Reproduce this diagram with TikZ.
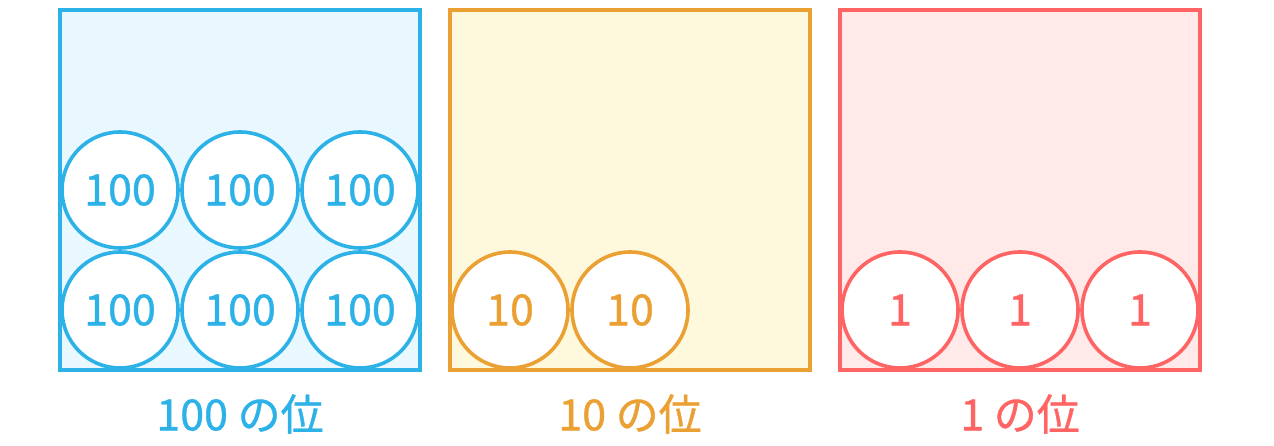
\documentclass[tikz,border=0pt]{standalone}
\usepackage{fontspec}
\setmainfont{Noto Sans CJK JP}
\newfontfamily\medfont{Noto Sans CJK JP}[FakeBold=0.9]
\definecolor{cblue}{HTML}{2DB2E8}
\definecolor{fblue}{HTML}{E9F8FE}
\definecolor{corange}{HTML}{EBA033}
\definecolor{forange}{HTML}{FEF8DC}
\definecolor{cred}{HTML}{FF6464}
\definecolor{fred}{HTML}{FFE9E9}
\begin{document}
\begin{tikzpicture}[x=1pt,y=-1pt,
  place/.style={draw=#1, line width=4pt},
  coin/.style={circle, draw=#1, fill=white, line width=3.6pt, minimum size=116pt, inner sep=0pt, text=#1, font=\medfont\fontsize{43}{43}\selectfont},
  lbl/.style={text=#1, font=\medfont\fontsize{43}{43}\selectfont}]
\useasboundingbox (0,0) rectangle (1274,446);
\draw[place=cblue, fill=fblue] (60,10) rectangle (420,370);
\draw[place=corange, fill=forange] (450,10) rectangle (810,370);
\draw[place=cred, fill=fred] (840,10) rectangle (1200,370);
\node[coin=cblue] (b1) at (120,190) {100};
\node[coin=cblue] (b2) at (240,190) {100};
\node[coin=cblue] (b3) at (360,190) {100};
\node[coin=cblue] (b4) at (120,310) {100};
\node[coin=cblue] (b5) at (240,310) {100};
\node[coin=cblue] (b6) at (360,310) {100};
\node[coin=corange] (o1) at (510,310) {10};
\node[coin=corange] (o2) at (630,310) {10};
\node[coin=cred] (r1) at (900,310) {1};
\node[coin=cred] (r2) at (1020,310) {1};
\node[coin=cred] (r3) at (1140,310) {1};
\node[lbl=cblue] (lb) at (240,414) {100 の位};
\node[lbl=corange] (lo) at (630,414) {10 の位};
\node[lbl=cred] (lr) at (1020,414) {1 の位};
\end{tikzpicture}
\end{document}
